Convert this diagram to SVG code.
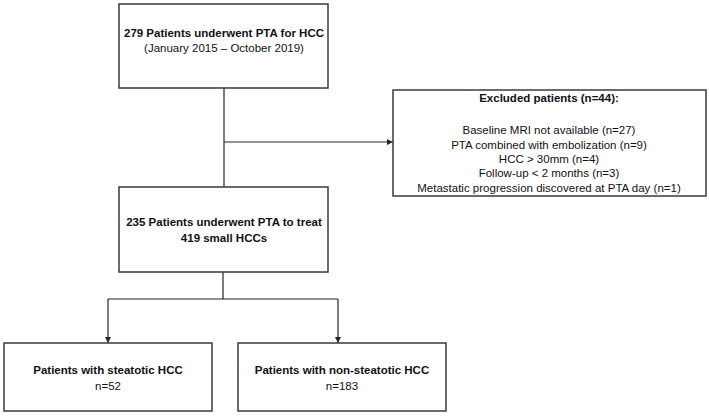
<svg xmlns="http://www.w3.org/2000/svg" width="709" height="416" viewBox="0 0 709 416">
<defs>
<marker id="arr" markerWidth="6" markerHeight="6" refX="6" refY="3" orient="auto" markerUnits="userSpaceOnUse">
<path d="M0,0 L6,3 L0,6 Z" fill="#262626"/>
</marker>
<style>
.box{fill:#ffffff;stroke:#3a3a3a;stroke-width:1.5}
.t{font-family:"Liberation Sans",Arial,sans-serif;font-size:11.5px;fill:#111;text-anchor:middle}
.b{font-weight:bold}
.ln{fill:none;stroke:#262626;stroke-width:1.2}
</style>
</defs>
<rect width="709" height="416" fill="#ffffff"/>
<g id="connectors">
<line class="ln" x1="224" y1="88" x2="224" y2="187"/>
<line class="ln" x1="224" y1="142" x2="393" y2="142" marker-end="url(#arr)"/>
<polyline class="ln" points="223,272 223,299"/>
<polyline class="ln" points="108,299 338,299"/>
<line class="ln" x1="108" y1="299" x2="108" y2="343" marker-end="url(#arr)"/>
<line class="ln" x1="338" y1="299" x2="338" y2="343" marker-end="url(#arr)"/>
</g>
<g id="n-start">
<rect class="box" x="119" y="4" width="209" height="84"/>
<text class="t b" x="224" y="37">279 Patients underwent PTA for HCC</text>
<text class="t" x="224" y="52">(January 2015 – October 2019)</text>
</g>
<g id="n-excluded">
<rect class="box" x="393" y="90" width="313" height="106"/>
<text class="t b" x="549" y="102">Excluded patients (n=44):</text>
<text class="t" x="549" y="134">Baseline MRI not available (n=27)</text>
<text class="t" x="549" y="148.5">PTA combined with embolization (n=9)</text>
<text class="t" x="549" y="163">HCC &gt; 30mm (n=4)</text>
<text class="t" x="549" y="177">Follow-up &lt; 2 months (n=3)</text>
<text class="t" x="549" y="191.5">Metastatic progression discovered at PTA day (n=1)</text>
</g>
<g id="n-treated">
<rect class="box" x="119" y="187" width="209" height="85"/>
<text class="t b" x="224" y="226">235 Patients underwent PTA to treat</text>
<text class="t b" x="224" y="242">419 small HCCs</text>
</g>
<g id="n-steatotic">
<rect class="box" x="4" y="343" width="208" height="68"/>
<text class="t b" x="108" y="374">Patients with steatotic HCC</text>
<text class="t" x="108" y="390">n=52</text>
</g>
<g id="n-nonsteatotic">
<rect class="box" x="238" y="343" width="208" height="68"/>
<text class="t b" x="342" y="374">Patients with non-steatotic HCC</text>
<text class="t" x="342" y="390">n=183</text>
</g>
</svg>
